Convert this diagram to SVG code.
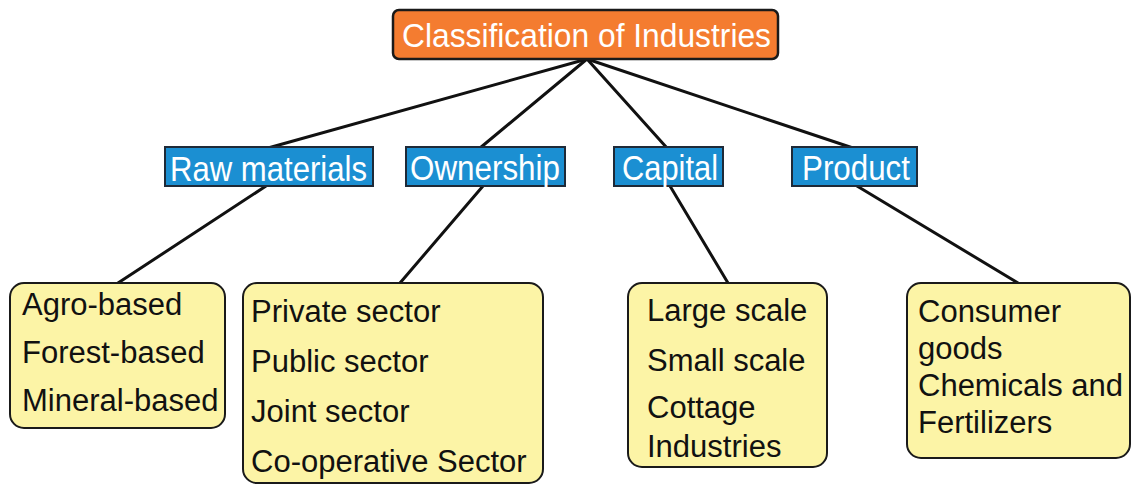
<svg xmlns="http://www.w3.org/2000/svg" width="1132" height="486" viewBox="0 0 1132 486">
<style>
.conn line{stroke:#111;stroke-width:3;stroke-linecap:round}
.root rect{fill:#F47C30;stroke:#1a1a1a;stroke-width:2.5}
.mid rect{fill:#1B8FD2;stroke:#1e2a38;stroke-width:2}
.leaf rect{fill:#FCF4A6;stroke:#1a1a1a;stroke-width:2}
.wt{fill:#fff;font-family:"Liberation Sans",Arial,sans-serif;font-size:31px}
.bt{fill:#111;font-family:"Liberation Sans",Arial,sans-serif;font-size:31px}
</style>
<rect width="1132" height="486" fill="#fff"/>
<g class="conn">
<line x1="587" y1="59" x2="268" y2="148"/>
<line x1="587" y1="59" x2="480" y2="148"/>
<line x1="587" y1="59" x2="667" y2="148"/>
<line x1="587" y1="59" x2="853" y2="148"/>
<line x1="266" y1="186" x2="118" y2="283"/>
<line x1="483" y1="186" x2="400" y2="283"/>
<line x1="670" y1="186" x2="728" y2="283"/>
<line x1="857" y1="186" x2="1018" y2="283"/>
</g>
<g id="root" class="root">
<rect x="393" y="10" width="385" height="49" rx="6"/>
<text class="wt" font-size="32" textLength="369" lengthAdjust="spacingAndGlyphs" transform="translate(402 47) scale(1 1.05)">Classification of Industries</text>
</g>
<g id="raw" class="mid">
<rect x="165" y="147" width="208" height="39"/>
<text class="wt" textLength="197" lengthAdjust="spacingAndGlyphs" transform="translate(170 181) scale(1 1.12)">Raw materials</text>
</g>
<g id="ownership" class="mid">
<rect x="406" y="147" width="159" height="39"/>
<text class="wt" textLength="150" lengthAdjust="spacingAndGlyphs" transform="translate(410 180) scale(1 1.12)">Ownership</text>
</g>
<g id="capital" class="mid">
<rect x="614" y="147" width="109" height="39"/>
<text class="wt" textLength="96" lengthAdjust="spacingAndGlyphs" transform="translate(622 180) scale(1 1.12)">Capital</text>
</g>
<g id="product" class="mid">
<rect x="792" y="147" width="125" height="39"/>
<text class="wt" textLength="108" lengthAdjust="spacingAndGlyphs" transform="translate(802 180) scale(1 1.12)">Product</text>
</g>
<g id="leaf-raw" class="leaf">
<rect x="10" y="283" width="215" height="145" rx="14"/>
<text class="bt" x="22" y="315">Agro-based</text>
<text class="bt" x="22" y="363">Forest-based</text>
<text class="bt" x="22" y="411">Mineral-based</text>
</g>
<g id="leaf-ownership" class="leaf">
<rect x="243" y="283" width="300" height="200" rx="14"/>
<text class="bt" x="251" y="322">Private sector</text>
<text class="bt" x="251" y="372">Public sector</text>
<text class="bt" x="251" y="422">Joint sector</text>
<text class="bt" x="251" y="472">Co-operative Sector</text>
</g>
<g id="leaf-capital" class="leaf">
<rect x="628" y="283" width="199" height="184" rx="14"/>
<text class="bt" x="647" y="321">Large scale</text>
<text class="bt" x="647" y="371">Small scale</text>
<text class="bt" x="647" y="418">Cottage</text>
<text class="bt" x="647" y="457">Industries</text>
</g>
<g id="leaf-product" class="leaf">
<rect x="907" y="283" width="223" height="175" rx="14"/>
<text class="bt" x="918" y="322">Consumer</text>
<text class="bt" x="918" y="359">goods</text>
<text class="bt" x="918" y="396">Chemicals and</text>
<text class="bt" x="918" y="433">Fertilizers</text>
</g>
</svg>
